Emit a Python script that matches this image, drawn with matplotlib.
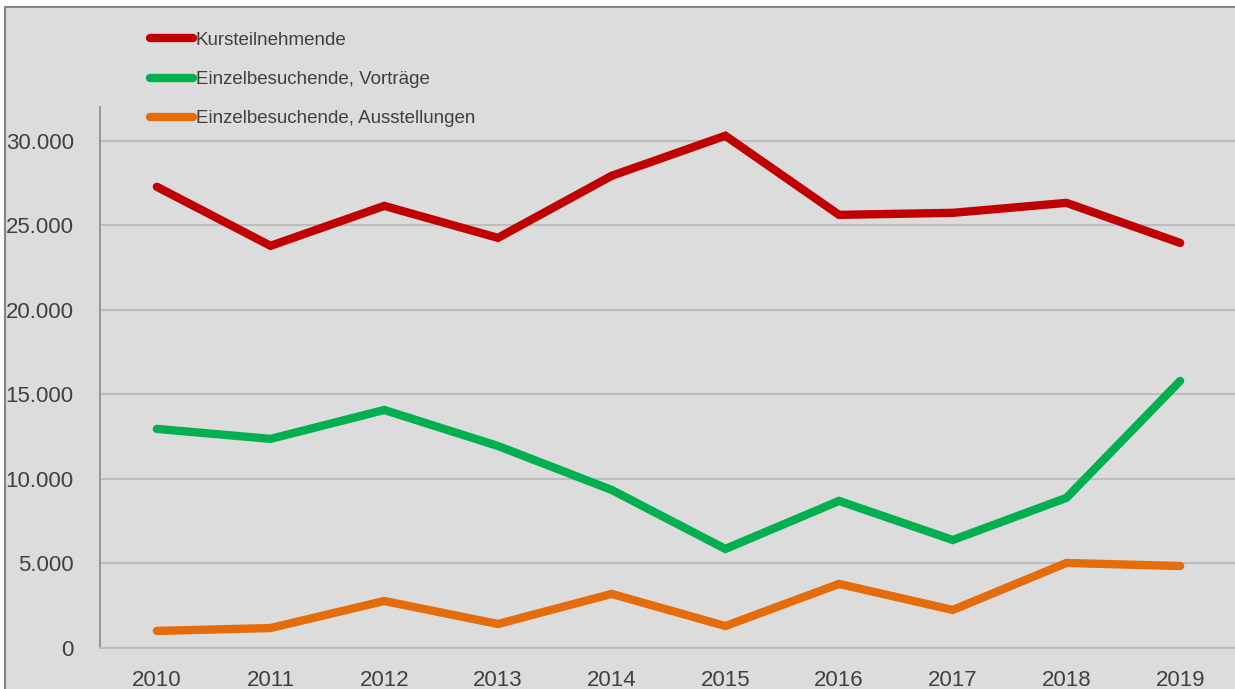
import matplotlib
matplotlib.use('Agg')
import matplotlib.pyplot as plt
from matplotlib.patches import Rectangle
from matplotlib.ticker import FuncFormatter

plt.rcParams['font.family'] = ['Liberation Sans', 'DejaVu Sans']

years = ['2010', '2011', '2012', '2013', '2014', '2015', '2016', '2017', '2018', '2019']
kurs = [27280, 23790, 26150, 24260, 27930, 30300, 25620, 25740, 26330, 23960]
vortraege = [12960, 12370, 14080, 11950, 9350, 5860, 8700, 6390, 8880, 15800]
ausstellungen = [1010, 1180, 2780, 1420, 3200, 1300, 3790, 2250, 5030, 4850]
labels = ['Kursteilnehmende', 'Einzelbesuchende, Vorträge', 'Einzelbesuchende, Ausstellungen']
colors = ['#c00000', '#00b050', '#e46c0a']

W, H = 1235, 689
fig = plt.figure(figsize=(W / 100, H / 100), dpi=100, facecolor='white')

# grey panel with border (cropped on the right and bottom)
top = 1 - 7 / H
fig.patches.append(Rectangle((5 / W, -0.05), 1.2, top + 0.05,
                             transform=fig.transFigure, facecolor='#dcdcdc',
                             edgecolor='#858585', linewidth=1.5, zorder=-1))

ax = fig.add_axes([100 / W, (H - 648) / H, 1137 / W, (648 - 107) / H])
ax.set_facecolor('none')

x = range(len(years))
for series, lab, col in zip([kurs, vortraege, ausstellungen], labels, colors):
    ax.plot(x, series, color=col, linewidth=6, solid_capstyle='round',
            solid_joinstyle='miter', label=lab, zorder=3)

ax.set_xlim(-0.5, len(years) - 0.5)
ax.set_ylim(0, 32000)
ax.set_yticks(range(0, 30001, 5000))
ax.yaxis.set_major_formatter(FuncFormatter(lambda v, p: f'{int(v):,}'.replace(',', '.')))
ax.set_xticks(list(x))
ax.set_xticklabels(years)
ax.tick_params(axis='both', length=0, labelsize=16, colors='#404040')
ax.tick_params(axis='y', pad=19)
ax.tick_params(axis='x', pad=16)

ax.grid(axis='y', color='#bdbdbd', linewidth=1.5)
ax.set_axisbelow(True)
for s in ['top', 'right']:
    ax.spines[s].set_visible(False)
ax.spines['left'].set_color('#8a8a8a')
ax.spines['left'].set_linewidth(1.2)
ax.spines['bottom'].set_color('#bdbdbd')
ax.spines['bottom'].set_linewidth(1.5)

leg = fig.legend(loc='upper left', bbox_to_anchor=(133 / W, 1 - 15 / H),
                 frameon=False, fontsize=13.5, labelcolor='#404040',
                 handlelength=2.3, handletextpad=0.15, labelspacing=1.17)
for line in leg.get_lines():
    line.set_linewidth(6)
    line.set_solid_capstyle('round')

fig.savefig('out.png', dpi=100, facecolor='white')
